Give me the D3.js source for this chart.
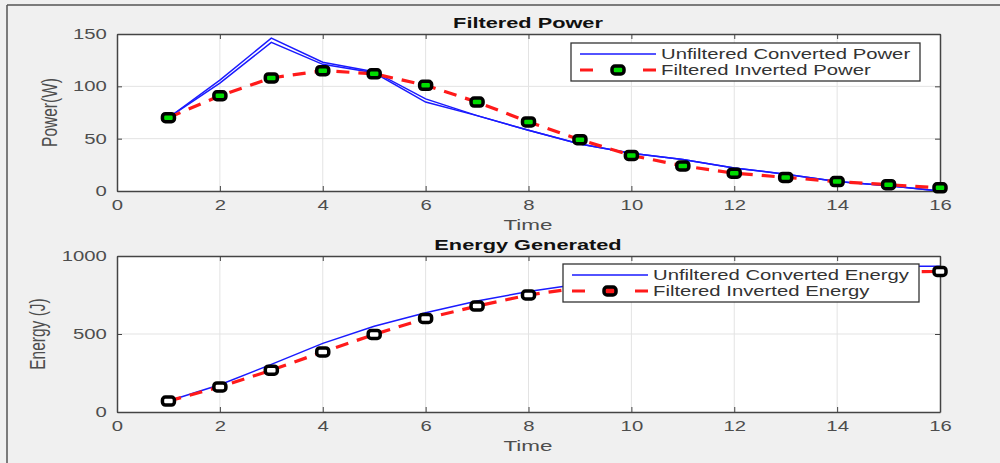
<!DOCTYPE html>
<html>
<head>
<script src="https://d3js.org/d3.v7.min.js"></script>
<style>
  body { margin: 0; background: #f0f0f0; }
  svg { display: block; font-family: "Liberation Sans", Arial, sans-serif; }
  .title { font-weight: bold; font-size: 15px; fill: #111; text-anchor: middle; }
  .lab { fill: #4d4d4d; font-size: 15.5px; text-anchor: middle; }
  .leg text { font-size: 14px; fill: #333; }
</style>
</head>
<body>
<svg width="1000" height="463"></svg>
<script>
// time steps
var time = [1,2,3,4,5,6,7,8,9,10,11,12,13,14,15,16];
var xTicks = [0,2,4,6,8,10,12,14,16];

// power (W) - the unfiltered trace shows as two close lines
var powerUnfiltA = [70,106,146,123,114,88,72,58,45,36,30,22,16,9,5,0];
var powerUnfiltB = [70,103,142,121,113,85,72,58,45,36,30,22,16,9,5,0];
var powerFilt = [70,91,108,115,112,101,85,66,49,34,24,17,13,9,6,3];
var powerTicks = [0,50,100,150];

// energy (J)
var energyUnfilt = [70,175,305,440,550,636,712,772,820,856,885,906,921,930,934,935];
var energyFilt = [70,161,268,385,497,600,679,750,797,830,854,871,883,892,898,901];
var energyTicks = [0,500,1000];

var SX = 1.45; // the picture is stretched sideways, text too

var svg = d3.select("svg");

// figure frame
svg.append("line").attr("x1", 7).attr("x2", 1000).attr("y1", 5).attr("y2", 5)
  .attr("stroke", "#555").attr("stroke-width", 1.5);
svg.append("line").attr("x1", 7).attr("x2", 7).attr("y1", 5).attr("y2", 463)
  .attr("stroke", "#555").attr("stroke-width", 1.5);

var x = d3.scaleLinear().domain([0, 16]).range([117, 940]);

function stext(parent, tx, ty, cls, str) {
  return parent.append("text").attr("class", cls)
    .attr("transform", "translate(" + tx + "," + ty + ") scale(" + SX + ",1)")
    .text(str);
}

function panel(opts) {
  var y = d3.scaleLinear().domain(opts.domain).range([opts.bottom, opts.top]);
  var g = svg.append("g");

  g.append("rect").attr("x", x(0)).attr("y", opts.top)
    .attr("width", x(16) - x(0)).attr("height", opts.bottom - opts.top)
    .attr("fill", "#fff");

  // grid
  g.selectAll(".vg").data(xTicks.slice(1, -1)).enter().append("line")
    .attr("x1", d => x(d)).attr("x2", d => x(d))
    .attr("y1", opts.top).attr("y2", opts.bottom)
    .attr("stroke", "#e3e3e3").attr("stroke-width", 1);
  g.selectAll(".hg").data(opts.ticks.slice(1, -1)).enter().append("line")
    .attr("x1", x(0)).attr("x2", x(16))
    .attr("y1", d => y(d)).attr("y2", d => y(d))
    .attr("stroke", "#e3e3e3").attr("stroke-width", 1);

  // axes
  g.append("g").attr("transform", "translate(0," + opts.bottom + ")")
    .call(d3.axisBottom(x).tickValues(xTicks).tickSizeInner(-5).tickSizeOuter(0).tickPadding(9.5));
  g.append("g").attr("transform", "translate(0," + opts.top + ")")
    .call(d3.axisTop(x).tickValues(xTicks).tickSizeInner(-5).tickSizeOuter(0).tickFormat(""));
  g.append("g").attr("transform", "translate(" + x(0) + ",0)")
    .call(d3.axisLeft(y).tickValues(opts.ticks).tickFormat(d3.format("d"))
      .tickSizeInner(-5).tickSizeOuter(0).tickPadding(7));
  g.append("g").attr("transform", "translate(" + x(16) + ",0)")
    .call(d3.axisRight(y).tickValues(opts.ticks).tickSizeInner(-5).tickSizeOuter(0).tickFormat(""));
  g.selectAll(".domain").attr("stroke", "#444").attr("stroke-width", 1.5);
  g.selectAll(".tick line").attr("stroke", "#444");
  g.selectAll(".tick text").style("fill", "#4d4d4d").style("font-size", "14px")
    .attr("transform", "scale(" + SX + ",1)");

  var line = d3.line().x((d, i) => x(time[i])).y(d => y(d));

  opts.blue.forEach(function (s) {
    g.append("path").datum(s).attr("d", line)
      .attr("fill", "none").attr("stroke", "#1a1aff").attr("stroke-width", 1.5);
  });
  g.append("path").datum(opts.red).attr("d", line)
    .attr("fill", "none").attr("stroke", "#ff1a1a").attr("stroke-width", 3.2)
    .attr("stroke-dasharray", "13,9");

  g.selectAll(".mk").data(opts.red).enter().append("rect")
    .attr("x", (d, i) => x(time[i]) - 6).attr("y", d => y(d) - 4)
    .attr("width", 12).attr("height", 8).attr("rx", 3)
    .attr("fill", opts.face).attr("stroke", "#000").attr("stroke-width", 3.5);

  // titles
  stext(svg, 528, opts.top - 6, "title", opts.title);
  stext(svg, 528, opts.bottom + 39, "lab", "Time");
  svg.append("text").attr("class", "lab")
    .attr("transform", "translate(" + opts.ylabX + "," + ((opts.top + opts.bottom) / 2) + ") scale(" + SX + ",1) rotate(-90)")
    .text(opts.ylab);

  // legend
  var lg = svg.append("g").attr("class", "leg");
  lg.append("rect").attr("x", opts.lx).attr("y", opts.ly).attr("width", opts.lw).attr("height", 38)
    .attr("fill", "#fff").attr("stroke", "#333").attr("stroke-width", 1.3);
  var sx = opts.lx + 9;
  lg.append("line").attr("x1", sx).attr("x2", sx + 76).attr("y1", opts.ly + 11).attr("y2", opts.ly + 11)
    .attr("stroke", "#1a1aff").attr("stroke-width", 1.5);
  lg.append("line").attr("x1", sx).attr("x2", sx + 76).attr("y1", opts.ly + 27).attr("y2", opts.ly + 27)
    .attr("stroke", "#ff1a1a").attr("stroke-width", 3.2).attr("stroke-dasharray", "13,50");
  lg.append("rect").attr("x", sx + 38 - 6).attr("y", opts.ly + 27 - 4).attr("width", 12).attr("height", 8)
    .attr("rx", 3).attr("fill", opts.legFace).attr("stroke", "#000").attr("stroke-width", 3.5);
  stext(lg, sx + 81, opts.ly + 15.5, null, opts.names[0]);
  stext(lg, sx + 81, opts.ly + 31.5, null, opts.names[1]);
}

panel({
  top: 34, bottom: 191, domain: [0, 150], ticks: powerTicks,
  blue: [powerUnfiltA, powerUnfiltB], red: powerFilt, face: "#00dd00", legFace: "#00dd00",
  title: "Filtered Power", ylab: "Power(W)", ylabX: 57,
  lx: 571, ly: 43, lw: 349,
  names: ["Unfiltered Converted Power", "Filtered Inverted Power"]
});

panel({
  top: 256, bottom: 412, domain: [0, 1000], ticks: energyTicks,
  blue: [energyUnfilt], red: energyFilt, face: "#fff", legFace: "#ff1a1a",
  title: "Energy Generated", ylab: "Energy (J)", ylabX: 45,
  lx: 563, ly: 264, lw: 356,
  names: ["Unfiltered Converted Energy", "Filtered Inverted Energy"]
});
</script>
</body>
</html>
